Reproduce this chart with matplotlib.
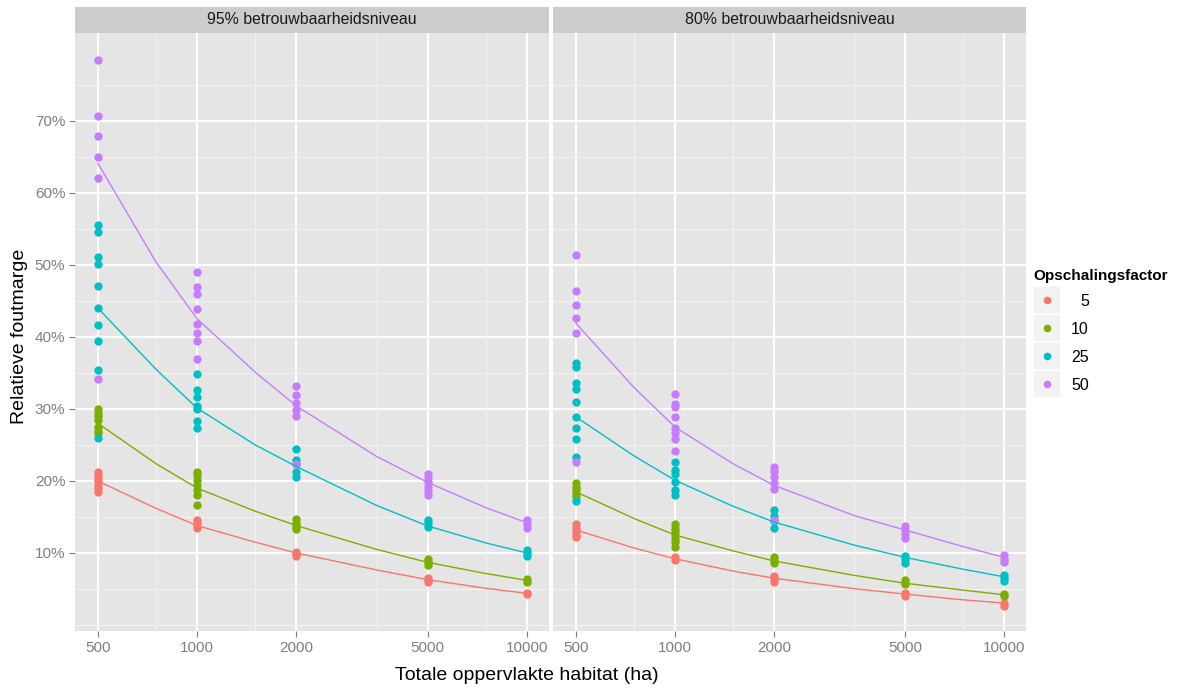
import matplotlib
matplotlib.use('Agg')
import matplotlib.pyplot as plt
from matplotlib.patches import Rectangle
from matplotlib.lines import Line2D
from matplotlib.ticker import FixedLocator, NullFormatter, FixedFormatter

plt.rcParams['font.family'] = ['Liberation Sans', 'DejaVu Sans']

# ---------------- data ----------------
areas = [500, 1000, 2000, 5000, 10000]
area_labels = ['500', '1000', '2000', '5000', '10000']
factors = ['5', '10', '25', '50']
colors = ['#F8766D', '#7CAE00', '#00BFC4', '#C77CFF']
panel_titles = ['95% betrouwbaarheidsniveau', '80% betrouwbaarheidsniveau']
y_ticks = [10, 20, 30, 40, 50, 60, 70]
y_labels = ['10%', '20%', '30%', '40%', '50%', '60%', '70%']

# observed points (%), one list per area, 95% level
p95_f5 = [[21.2, 20.8, 20.3, 20.0, 19.5, 19.0, 18.5], [14.6, 14.2, 13.8, 13.5],
          [10.2, 9.9, 9.6], [6.5, 6.2, 6.0], [4.5, 4.3]]
p95_f10 = [[30.0, 29.5, 29.0, 28.5, 27.5, 27.0, 26.6], [21.3, 20.8, 20.1, 19.4, 18.7, 18.1, 16.6],
           [14.7, 14.2, 13.7, 13.3], [9.1, 8.7, 8.3], [6.4, 6.0]]
p95_f25 = [[55.5, 54.6, 51.1, 50.1, 47.1, 44.0, 41.7, 39.4, 35.4, 26.0],
           [34.8, 32.6, 31.6, 30.4, 30.0, 28.3, 27.3],
           [24.5, 22.9, 22.3, 21.3, 20.5], [14.6, 14.1, 13.6], [10.4, 10.0, 9.6]]
p95_f50 = [[78.4, 70.7, 67.9, 65.0, 62.0, 34.2],
           [49.0, 47.0, 45.9, 43.9, 41.8, 40.6, 39.4, 36.9],
           [33.2, 31.9, 30.8, 29.9, 29.0, 22.3],
           [21.0, 20.4, 19.8, 19.2, 18.6, 18.1], [14.6, 14.0, 13.5]]

# observed points (%), 80% level
p80_f5 = [[14.0, 13.5, 13.0, 12.5, 12.2], [9.4, 9.0], [6.8, 6.4, 6.0], [4.4, 4.0], [3.0, 2.7]]
p80_f10 = [[19.7, 19.2, 18.7, 18.2, 17.8], [14.0, 13.5, 13.0, 12.5, 12.0, 11.5, 10.8],
           [9.4, 9.0, 8.6], [6.2, 5.7], [4.3, 4.0]]
p80_f25 = [[36.4, 35.8, 33.6, 32.8, 31.0, 28.9, 27.4, 25.8, 23.3, 17.2],
           [22.7, 21.5, 21.0, 19.9, 18.7, 18.1],
           [16.0, 15.2, 14.5, 13.5], [9.6, 9.1, 8.6], [6.9, 6.5, 6.1]]
p80_f50 = [[51.4, 46.4, 44.5, 42.6, 40.6, 22.6],
           [32.1, 30.7, 30.3, 28.9, 27.4, 26.7, 25.8, 24.2],
           [22.0, 21.4, 20.6, 19.7, 18.9, 14.6],
           [13.8, 13.2, 12.6, 12.1], [9.7, 9.2, 8.7]]

# fitted curves (%)
curve_x = [500, 750, 1000, 1500, 2000, 3500, 5000, 7500, 10000]
c95_f5 = [20.0, 16.2, 13.8, 11.5, 10.0, 7.65, 6.3, 5.1, 4.4]
c95_f10 = [28.0, 22.4, 19.0, 15.8, 13.8, 10.5, 8.7, 7.15, 6.2]
c95_f25 = [44.0, 35.5, 30.1, 25.0, 22.0, 16.6, 13.75, 11.4, 10.0]
c95_f50 = [64.1, 50.4, 42.5, 35.1, 30.4, 23.4, 19.8, 16.3, 14.2]
c80_f5 = [13.2, 10.7, 9.2, 7.5, 6.5, 5.05, 4.3, 3.5, 3.05]
c80_f10 = [18.5, 14.8, 12.5, 10.3, 8.9, 6.9, 5.8, 4.85, 4.2]
c80_f25 = [28.9, 23.5, 20.1, 16.5, 14.3, 11.1, 9.4, 7.75, 6.7]
c80_f50 = [41.9, 33.0, 27.5, 22.4, 19.4, 15.2, 13.2, 10.9, 9.4]

points = [[p95_f5, p95_f10, p95_f25, p95_f50], [p80_f5, p80_f10, p80_f25, p80_f50]]
curves = [[c95_f5, c95_f10, c95_f25, c95_f50], [c80_f5, c80_f10, c80_f25, c80_f50]]

# ---------------- layout ----------------
W, H = 1178, 688
fig = plt.figure(figsize=(W / 100, H / 100), dpi=100)
fig.patch.set_facecolor('white')


def box(l, t, r, b):
    return [l / W, 1 - b / H, (r - l) / W, (b - t) / H]


panel_lr = [(75, 549), (553, 1026)]
p_top, p_bot = 33, 631
s_top = 7
grey_txt = '#7F7F7F'

for i, (l, r) in enumerate(panel_lr):
    ax = fig.add_axes(box(l, p_top, r, p_bot))
    ax.set_facecolor('#E5E5E5')
    ax.set_xscale('log')
    ax.set_xlim(426, 11660)
    ax.set_ylim(-0.83, 82.2)
    for s in ax.spines.values():
        s.set_visible(False)
    ax.xaxis.set_major_locator(FixedLocator(areas))
    ax.xaxis.set_major_formatter(FixedFormatter(area_labels))
    ax.xaxis.set_minor_locator(FixedLocator([750, 1500, 3500, 7500]))
    ax.xaxis.set_minor_formatter(NullFormatter())
    ax.yaxis.set_major_locator(FixedLocator(y_ticks))
    ax.yaxis.set_minor_locator(FixedLocator([0, 5, 15, 25, 35, 45, 55, 65, 75]))
    ax.yaxis.set_minor_formatter(NullFormatter())
    if i == 0:
        ax.yaxis.set_major_formatter(FixedFormatter(y_labels))
    else:
        ax.yaxis.set_major_formatter(NullFormatter())
    ax.grid(which='minor', color='#F2F2F2', lw=0.8)
    ax.grid(which='major', color='white', lw=1.5)
    ax.set_axisbelow(True)
    ax.tick_params(which='major', length=4, width=0.8, color=grey_txt,
                   labelcolor=grey_txt, labelsize=11, pad=3)
    ax.tick_params(which='minor', length=0)
    if i == 1:
        ax.tick_params(axis='y', which='major', length=0)

    for g in range(4):
        xs, ys = [], []
        for a, vals in zip(areas, points[i][g]):
            xs += [a] * len(vals)
            ys += vals
        ax.scatter(xs, ys, s=36, color=colors[g], linewidths=0, zorder=2)
    for g in range(4):
        ax.plot(curve_x, curves[i][g], color=colors[g], lw=1.0, zorder=3)

    sax = fig.add_axes(box(l, s_top, r, p_top))
    sax.set_facecolor('#CCCCCC')
    sax.set_xticks([])
    sax.set_yticks([])
    for s in sax.spines.values():
        s.set_visible(False)
    sax.text(0.5, 0.5, panel_titles[i], ha='center', va='center',
             fontsize=11.4, color='#1A1A1A', transform=sax.transAxes)

# axis titles
fig.text(527 / W, 1 - 676 / H, 'Totale oppervlakte habitat (ha)',
         ha='center', va='center', fontsize=14)
fig.text(20 / W, 1 - 336 / H, 'Relatieve foutmarge', rotation=90,
         ha='center', va='center', fontsize=14)

# legend
fig.text(1033 / W, 1 - 276 / H, 'Opschalingsfactor', fontweight='bold',
         fontsize=11, ha='left', va='center')
key_tops = [286, 314, 342, 370]
for g, kt in enumerate(key_tops):
    fig.add_artist(Rectangle((1033 / W, 1 - (kt + 28) / H), 28 / W, 28 / H,
                             transform=fig.transFigure, facecolor='#F2F2F2',
                             edgecolor='white', lw=1.2))
    fig.add_artist(Line2D([1047 / W], [1 - (kt + 14) / H], marker='o', ms=5.5,
                          color=colors[g], mec='none', transform=fig.transFigure))
    fig.text(1089 / W, 1 - (kt + 15) / H, factors[g], ha='right', va='center',
             fontsize=11.5)

fig.savefig('out.png', dpi=100)
